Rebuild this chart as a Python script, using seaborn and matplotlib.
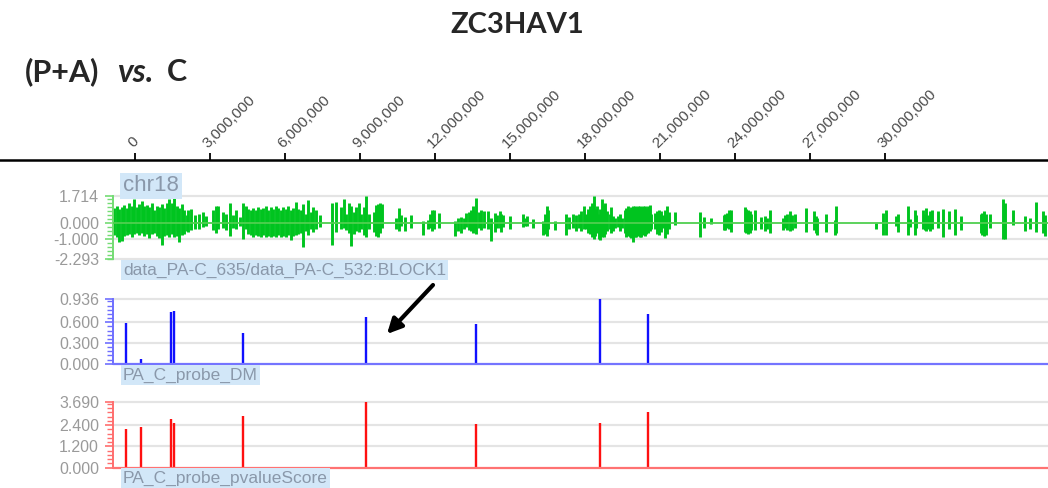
import matplotlib
matplotlib.use("Agg")
import matplotlib.pyplot as plt
from matplotlib.ticker import MultipleLocator, FixedLocator, FixedFormatter
import seaborn as sns

# top ruler (bp)
ruler_ticks = [0, 3000000, 6000000, 9000000, 12000000, 15000000,
               18000000, 21000000, 24000000, 27000000, 30000000]

# log ratio track (chr18): probe position in Mb, max and min value per column
ratio_pos = [
    0.05, 0.15, 0.25, 0.35, 0.45, 0.55, 0.65, 0.75, 0.85, 0.95,
    1.05, 1.15, 1.25, 1.35, 1.45, 1.55, 1.65, 1.75, 1.85, 1.95,
    2.05, 2.15, 2.25, 2.35, 2.45, 2.55, 2.65, 2.75, 2.85, 2.95,
    3.0, 3.12, 3.28, 3.44, 3.6, 3.72, 4.0, 4.12, 4.2, 4.4,
    4.52, 4.68, 4.8, 4.92, 5.08, 5.2, 5.32,
    5.4, 5.5, 5.6, 5.7, 5.8, 5.9, 6.0, 6.1, 6.2, 6.3, 6.4,
    6.5, 6.6, 6.7, 6.8, 6.9, 7.0, 7.1, 7.2, 7.3, 7.4, 7.5,
    7.6, 7.7, 7.8, 7.9, 8.0, 8.12, 8.28, 8.76, 8.92, 9.12,
    9.24, 9.33, 9.44, 9.53, 9.64, 9.73, 9.83, 9.93, 10.03, 10.13,
    10.23, 10.43, 10.51, 10.6, 10.69, 10.77, 11.31, 11.44, 11.53, 11.67,
    11.93, 12.4, 12.6, 12.69, 12.77, 12.83, 13.04, 13.67, 13.8, 13.93,
    14.03, 14.13, 14.24, 14.33, 14.4, 14.47, 14.53, 14.63, 14.73, 14.83,
    15.0, 15.13, 15.27, 15.36, 15.47, 15.53, 15.6, 15.87, 16.4, 16.47,
    16.56, 16.8, 17.2, 17.29, 17.36, 17.4, 17.67, 18.13, 18.23, 18.4, 18.51,
    18.64, 18.73, 18.84, 18.93, 19.0, 19.09, 19.16, 19.23, 19.29, 19.36,
    19.43, 19.49, 19.56, 19.63, 19.69, 19.76, 19.87, 19.93, 20.0, 20.09,
    20.2, 20.27, 20.36, 20.47, 20.53, 20.6, 20.67, 20.73, 20.8, 20.87,
    20.93, 21.0, 21.07, 21.13, 21.2, 21.27, 21.33, 21.4, 21.47, 21.53,
    21.69, 21.76, 21.83, 21.91, 22.0, 22.09, 22.16, 22.23, 22.47, 23.47,
    23.64, 23.93, 24.43, 24.49, 24.56, 24.63, 24.73, 25.27, 25.33, 25.4,
    25.47, 25.53, 25.67, 25.91, 26.07, 26.17, 26.28, 26.8, 26.87, 26.97,
    27.07, 27.16, 27.27, 27.71,
    28.04, 28.11, 28.17, 28.53, 28.87, 28.93, 30.53, 30.8, 30.91, 31.33,
    31.4, 31.8, 31.87, 32.07, 32.13, 32.4, 32.47, 32.53, 32.6, 32.67,
    32.77, 33.0, 33.2, 33.44, 33.67, 33.93, 34.71, 34.77, 34.84, 34.91,
    35.07, 35.6, 35.67, 36.0, 36.47, 36.67, 36.91, 37.2, 37.29,
]
ratio_hi = [
    0.95, 1.05, 0.9, 1.0, 1.15, 0.95, 1.3, 1.1, 1.5, 1.0,
    1.2, 1.4, 1.05, 1.15, 1.0, 1.25, 0.8, 1.1, 1.0, 1.2,
    0.95, 1.25, 1.5, 1.3, 1.65, 1.1, 0.95, 1.2, 0.85, 0.5,
    0.8, 0.9, 0.5, 0.6, 0.7, 0.45, 0.8, 1.05, 1.1, 0.7,
    0.6, 1.25, 0.5, 0.8, 0.4, 1.3, 1.1,
    0.9, 0.8, 0.95, 0.85, 1.0, 0.9, 0.95, 1.05, 0.85, 1.0, 0.9,
    1.1, 0.95, 0.85, 1.0, 0.9, 1.05, 0.8, 0.95, 1.35, 0.9, 0.85,
    1.2, 0.6, 1.45, 0.7, 1.0, 0.8, 0.5, 1.25, 1.35, 1.0,
    1.5, 0.6, 1.25, 1.1, 0.7, 1.0, 1.3, 0.55, 1.0, 1.7,
    0.55, 0.7, 1.15, 1.2, 1.25, 1.2, 0.35, 0.95, 0.5, 0.4,
    0.5, 0.1, 0.2, 0.55, 0.8, 0.85, 0.65, 0.1, 0.35, 0.4,
    0.3, 0.65, 0.7, 0.85, 1.05, 0.8, 1.6, 0.7, 0.85, 0.75,
    0.75, 0.3, 0.65, 0.5, 0.75, 0.6, 0.5, 0.45, 0.6, 0.35,
    0.45, 0.25, 0.1, 0.55, 1.05, 0.8, 0.1, 0.6, 0.4, 0.55, 0.5,
    0.6, 0.75, 1.05, 0.6, 0.9, 1.1, 1.25, 1.7, 0.9, 1.1,
    0.6, 0.9, 1.5, 1.15, 1.3, 0.75, 0.55, 1.0, 0.45, 0.35,
    0.45, 0.55, 0.3, 0.85, 0.95, 1.05, 0.9, 1.0, 1.05, 1.1,
    1.0, 1.05, 1.1, 1.0, 1.05, 1.1, 0.95, 1.1, 1.15, 0.6,
    0.65, 0.75, 0.8, 0.75, 0.5, 0.85, 1.1, 0.7, 0.7, 0.7,
    0.4, 0.3, 0.5, 0.6, 0.65, 0.8, 0.85, 1.0, 0.9, 0.8,
    0.75, 0.55, 0.8, 0.4, 0.45, 0.3, 0.8, 0.35, 0.5, 0.6,
    0.75, 0.5, 0.6, 0.95,
    0.75, 0.45, 0.3, 0.6, 0.2, 1.05, 0.0, 0.65, 0.8, 0.45,
    0.55, 1.05, 0.25, 0.85, 0.5, 0.8, 0.6, 0.95, 0.5, 0.75,
    0.8, 0.75, 0.9, 0.75, 0.9, 0.45, 0.55, 0.65, 0.75, 0.6,
    0.55, 1.55, 1.25, 0.85, 0.45, 0.3, 1.35, 0.75, 0.5,
]
ratio_lo = [
    -0.75, -0.9, -1.2, -1.15, -0.8, -0.75, -0.7, -0.85, -0.7, -0.65,
    -0.75, -0.6, -0.8, -0.7, -0.95, -0.7, -0.6, -0.8, -0.95, -1.4,
    -0.8, -0.75, -0.85, -0.7, -0.9, -0.8, -1.2, -0.75, -0.7, -0.5,
    -0.55, -0.45, -0.35, -0.35, -0.25, -0.2, -0.45, -0.6, -0.35, -0.3,
    -0.45, -0.8, -0.3, -0.35, -0.2, -1.0, -0.35,
    -0.7, -0.75, -0.85, -0.75, -0.8, -0.9, -0.75, -0.85, -0.8, -0.9, -0.8,
    -0.85, -0.75, -0.9, -0.8, -0.85, -0.75, -1.1, -0.8, -0.75, -0.7, -0.65,
    -1.5, -0.5, -0.75, -0.4, -0.55, -0.35, -0.25, -1.4, -0.55, -0.35,
    -0.3, -0.45, -0.6, -1.45, -0.7, -0.5, -0.55, -0.35, -0.75, -0.85,
    -0.4, -0.55, -0.8, -0.9, -0.6, -0.3, -0.35, -0.5, -0.2, -0.5,
    -0.3, -0.75, -0.4, -0.3, -0.5, -0.35, -0.3, -0.8, -0.5, -0.6,
    -0.35, -0.25, -0.45, -0.5, -0.65, -0.45, -0.7, -0.3, -0.45, -0.3,
    -0.4, -1.15, -0.55, -0.3, -0.3, -0.55, -0.25, -0.35, -0.25, -0.2,
    -0.2, -0.3, -0.75, -0.7, -0.8, -0.35, -0.45, -0.75, -0.4, -0.3, -0.5,
    -0.3, -0.5, -0.35, -0.35, -0.65, -0.7, -0.9, -1.0, -0.8, -0.6,
    -1.0, -1.1, -0.85, -0.9, -0.7, -0.5, -0.35, -0.6, -0.5, -0.3,
    -0.25, -0.5, -0.3, -0.6, -0.85, -0.8, -0.9, -0.95, -1.2, -0.9,
    -0.85, -0.8, -0.9, -0.85, -0.75, -0.8, -0.7, -0.65, -0.5, -0.4,
    -0.35, -0.7, -0.75, -0.55, -0.3, -0.95, -0.7, -0.4, -0.1, -0.9,
    -0.3, -0.05, -0.45, -0.45, -0.3, -0.4, -0.55, -0.55, -0.6, -0.7,
    -0.65, -0.45, -0.45, -0.4, -0.5, -0.35, -0.65, -0.45, -0.3, -0.45,
    -0.5, -0.45, -0.3, -0.55,
    -0.45, -0.6, -0.75, -0.55, -0.75, -0.6, -0.4, -0.75, -0.75, -0.2,
    -0.55, -0.75, -0.25, -0.75, -0.3, -0.4, -0.45, -0.5, -0.4, -0.5,
    -0.4, -0.3, -0.85, -0.35, -0.75, -0.45, -0.65, -0.75, -0.8, -0.75,
    -0.3, -1.0, -1.0, -0.15, -0.5, -0.4, -0.55, -0.65, -0.8,
]

# probe tracks (same probes in both)
probe_pos = [0.52, 1.13, 2.32, 2.44, 5.2, 10.13, 14.53, 19.49, 21.41]
dm_vals = [0.593, 0.068, 0.744, 0.762, 0.44, 0.671, 0.574, 0.936, 0.723]
pval_vals = [2.17, 2.32, 2.75, 2.54, 2.90, 3.69, 2.47, 2.53, 3.13]

W, H = 1048, 488
TRACK_END = 37.4  # Mb at right edge

sns.set_theme(style="white")
plt.rcParams["font.family"] = ["Liberation Sans", "DejaVu Sans"]

fig = plt.figure(figsize=(W / 100, H / 100), dpi=100)


def box(x0, y_top, x1, y_bottom):
    # pixel box (top-left origin) -> figure fraction
    return [x0 / W, 1 - y_bottom / H, (x1 - x0) / W, (y_bottom - y_top) / H]


def style_track(ax, ylim, major, labels, minor, axis_color, grid):
    ax.set_xlim(0, TRACK_END)
    ax.set_ylim(*ylim)
    ax.set_xticks([])
    for s in ["top", "right", "bottom"]:
        ax.spines[s].set_visible(False)
    ax.spines["left"].set_color(axis_color)
    ax.spines["left"].set_linewidth(1.4)
    ax.yaxis.set_major_locator(FixedLocator(major))
    ax.yaxis.set_major_formatter(FixedFormatter(labels))
    ax.yaxis.set_minor_locator(MultipleLocator(minor))
    ax.tick_params(axis="y", which="major", left=True, length=6, width=1.2,
                   color=axis_color, labelsize=11.5, labelcolor="#9a9a9a", pad=4)
    ax.tick_params(axis="y", which="minor", left=True, length=4, width=1.0,
                   color=axis_color)
    for g in grid:
        ax.axhline(g, color="#e4e4e4", lw=1.6, zorder=0, clip_on=False)
    ax.patch.set_alpha(0)


def track_label(x, y, text, size):
    fig.text(x / W, 1 - y / H, text, fontsize=size, color="#8a98aa",
             ha="left", va="center",
             bbox=dict(boxstyle="square,pad=0.12", fc="#d2e7f8", ec="none"))


# ruler
ax_r = fig.add_axes(box(0, 160, W, 161))
ax_r.set_xlim(-5.4e6, 36.52e6)
ax_r.set_ylim(0, 1)
for s in ["left", "right", "bottom"]:
    ax_r.spines[s].set_visible(False)
ax_r.spines["top"].set_color("black")
ax_r.spines["top"].set_linewidth(1.8)
ax_r.set_yticks([])
ax_r.xaxis.tick_top()
ax_r.set_xticks(ruler_ticks)
ax_r.set_xticklabels([f"{t:,}" for t in ruler_ticks], rotation=45,
                     ha="left", va="bottom", rotation_mode="anchor")
ax_r.tick_params(axis="x", top=True, bottom=False, direction="out", length=5,
                 width=1.3, color="black", labelsize=11, labelcolor="#4a4a4a", pad=2)
ax_r.patch.set_alpha(0)

# log ratio track
green = "#00c41f"
ax_g = fig.add_axes(box(113, 196, W, 259.3))
ax_g.vlines(ratio_pos, ratio_lo, ratio_hi, color=green, lw=2.1, zorder=2)
ax_g.axhline(0, color="#4fcf4f", lw=1.3, zorder=3)
style_track(ax_g, (-2.293, 1.714), [-2.293, -1.0, 0.0, 1.714],
            ["-2.293", "-1.000", "0.000", "1.714"], 0.25, "#74dc74",
            [1.714, -1.0, -2.293])

# DM track
ax_b = fig.add_axes(box(113, 299, W, 363.7))
ax_b.vlines(probe_pos, 0, dm_vals, color="#1010ff", lw=1.7, zorder=2)
ax_b.axhline(0, color="#7474ff", lw=1.6, zorder=3, clip_on=False)
style_track(ax_b, (0, 0.936), [0.0, 0.3, 0.6, 0.936],
            ["0.000", "0.300", "0.600", "0.936"], 0.06, "#6f6fff",
            [0.936, 0.6, 0.3])

# pvalue track
ax_p = fig.add_axes(box(113, 402.3, W, 467.7))
ax_p.vlines(probe_pos, 0, pval_vals, color="#ff1010", lw=1.7, zorder=2)
ax_p.axhline(0, color="#ff7272", lw=1.6, zorder=3, clip_on=False)
style_track(ax_p, (0, 3.69), [0.0, 1.2, 2.4, 3.69],
            ["0.000", "1.200", "2.400", "3.690"], 0.24, "#ff6e6e",
            [3.69, 2.4, 1.2])

track_label(123, 186, "chr18", 16)
track_label(123, 270, "data_PA-C_635/data_PA-C_532:BLOCK1", 12.5)
track_label(123, 375, "PA_C_probe_DM", 12.5)
track_label(123, 478, "PA_C_probe_pvalueScore", 12.5)

# arrow pointing at the DM peak
ax_b.annotate("", xy=(387 / W, 1 - 334 / H), xytext=(433 / W, 1 - 285 / H),
              xycoords="figure fraction", textcoords="figure fraction",
              arrowprops=dict(arrowstyle="-|>", color="black", lw=3,
                              mutation_scale=22, shrinkA=0, shrinkB=0))

# headings
head_font = ["Lato", "DejaVu Sans"]
fig.text(517 / W, 1 - 25 / H, "ZC3HAV1", ha="center", va="center",
         fontsize=21, fontweight="bold", family=head_font)
fig.text(25 / W, 1 - 72 / H, "(P+A)", ha="left", va="center",
         fontsize=22, fontweight="bold", family=head_font)
fig.text(117 / W, 1 - 72 / H, "vs.", ha="left", va="center",
         fontsize=23, fontweight="bold", style="italic", family=head_font)
fig.text(167 / W, 1 - 72 / H, "C", ha="left", va="center",
         fontsize=22, fontweight="bold", family=head_font)

fig.savefig("out.png", dpi=100)
